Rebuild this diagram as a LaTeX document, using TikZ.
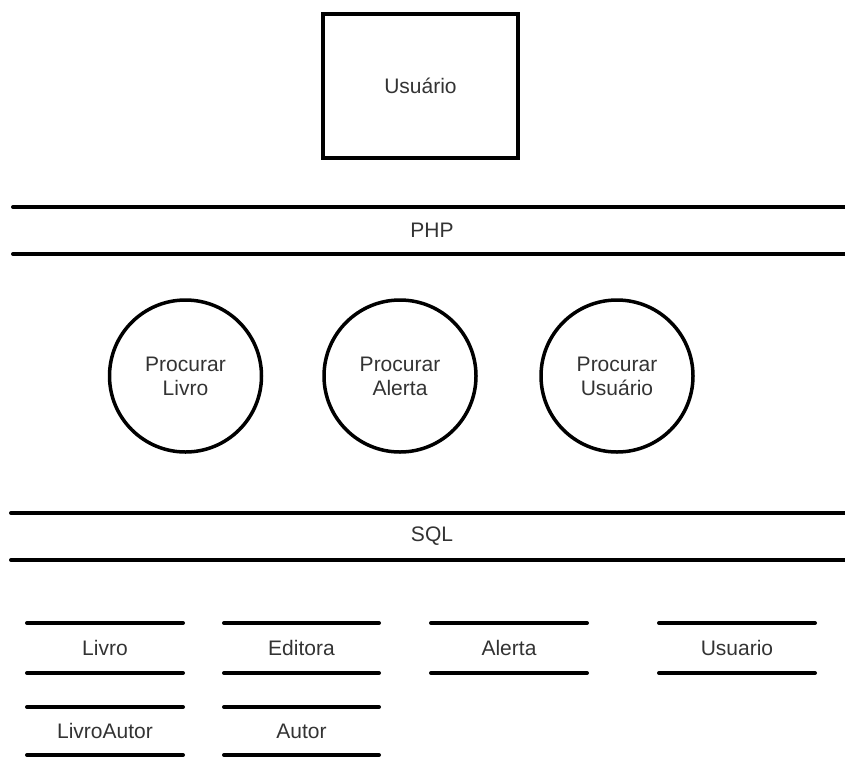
\documentclass[tikz,border=0pt]{standalone}
\usepackage{fontspec}
\setmainfont{Liberation Sans}
\begin{document}
\begin{tikzpicture}[x=1pt,y=-1pt,
  lbl/.style={font=\fontsize{21}{24}\selectfont, text=black!80, align=center, inner sep=0pt},
  actor/.style={draw, line width=4pt, minimum width=195pt, minimum height=144pt, lbl},
  proc/.style={draw, circle, line width=3.5pt, minimum size=152pt, lbl},
  rule/.style={line width=4pt, line cap=round}]
\useasboundingbox (0,0) rectangle (845,756);

% user on top
\node[actor] (user) at (420.5,86) {Usuário};

% PHP layer
\node[lbl] (php) at (432,230) {PHP};
\draw[rule] (13,207) -- (850,207);
\draw[rule] (13,254) -- (850,254);

% processes
\node[proc] (pl) at (185.5,376) {Procurar\\Livro};
\node[proc] (pa) at (400,376) {Procurar\\Alerta};
\node[proc] (pu) at (617,376) {Procurar\\Usuário};

% SQL layer
\node[lbl] (sql) at (432,536) {SQL};
\draw[rule] (11,513) -- (850,513);
\draw[rule] (11,560) -- (850,560);

% data stores
\foreach \name/\txt/\xa/\xb/\ya/\yb in {
    livro/Livro/27/183/623/673,
    editora/Editora/224/379/623/673,
    alerta/Alerta/431/587/623/673,
    usuario/Usuario/659/815/623/673,
    livroautor/LivroAutor/27/183/707/755,
    autor/Autor/224/379/707/755}{
  \node[lbl] (\name) at ({(\xa+\xb)/2},{(\ya+\yb)/2}) {\txt};
  \draw[rule] (\xa,\ya) -- (\xb,\ya);
  \draw[rule] (\xa,\yb) -- (\xb,\yb);
}
\end{tikzpicture}
\end{document}
